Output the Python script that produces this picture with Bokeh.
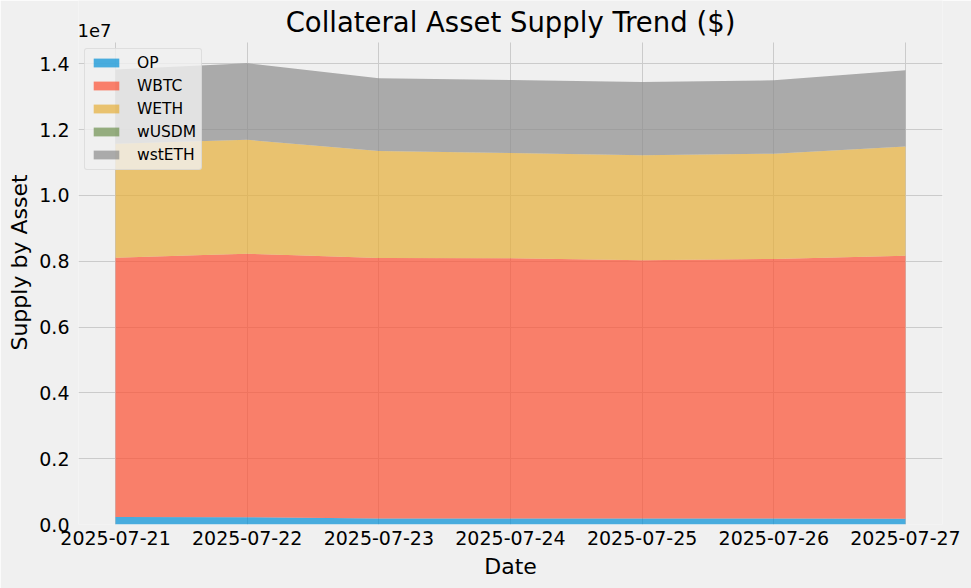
import pandas as pd
from bokeh.plotting import figure
from bokeh.models import (ColumnDataSource, Range1d, FixedTicker, DatetimeTickFormatter,
                          CustomJSTickFormatter, Label, Title)
from bokeh.embed import file_html
from bokeh.resources import INLINE

# ---- data ----
dates = ["2025-07-21", "2025-07-22", "2025-07-23", "2025-07-24",
         "2025-07-25", "2025-07-26", "2025-07-27"]
assets = ["OP", "WBTC", "WETH", "wUSDM", "wstETH"]
op = [230000, 222000, 185000, 180000, 180000, 180000, 175000]
wbtc = [7880000, 8010000, 7915000, 7910000, 7850000, 7890000, 7995000]
weth = [3460000, 3460000, 3250000, 3200000, 3190000, 3200000, 3320000]
wusdm = [0, 0, 0, 0, 0, 0, 0]
wsteth = [2260000, 2330000, 2210000, 2220000, 2230000, 2230000, 2320000]
colors = ["#008fd5", "#fc4f30", "#e5ae38", "#6d904f", "#8b8b8b"]
y_tick_values = [0, 2e6, 4e6, 6e6, 8e6, 10e6, 12e6, 14e6]
title_text = "Collateral Asset Supply Trend ($)"
x_label = "Date"
y_label = "Supply by Asset"

FONT = "DejaVu Sans"
BG = "#f0f0f0"

# geometry (pixels)
H = 588
FRAME_BOTTOM = 523.5          # screen y of value 0
AXES_TOP = 42                 # screen y of the top of the plotting area
PX_PER_UNIT = 328.7 / 1e7     # pixels per dollar
Y_END = (FRAME_BOTTOM - AXES_TOP) / PX_PER_UNIT        # top of the axes area
Y_TOP = FRAME_BOTTOM / PX_PER_UNIT                      # top of the canvas


def y_at(screen_y):
    return (FRAME_BOTTOM - screen_y) / PX_PER_UNIT


x = pd.to_datetime(dates)
source = ColumnDataSource(dict(date=x, OP=op, WBTC=wbtc, WETH=weth, wUSDM=wusdm, wstETH=wsteth))

pad = pd.Timedelta(hours=6.75)
x_start, x_end = x[0] - pad, x[-1] + pad
p = figure(width=971, height=H, output_backend="svg", toolbar_location=None,
           x_axis_type="datetime",
           x_range=Range1d(x_start, x_end),
           y_range=Range1d(0, Y_TOP),
           min_border_left=77, min_border_right=29, min_border_top=0,
           min_border_bottom=int(round(H - FRAME_BOTTOM)))

p.varea_stack(stackers=assets, x="date", source=source, color=colors,
              fill_alpha=0.7, legend_label=assets)

p.background_fill_color = BG
p.border_fill_color = BG
p.outline_line_color = None

for ax in (p.xaxis[0], p.yaxis[0]):
    ax.axis_line_color = None
    ax.major_tick_line_color = None
    ax.minor_tick_line_color = None
    ax.major_tick_out = 0
    ax.major_tick_in = 0
    ax.minor_tick_out = 0
    ax.minor_tick_in = 0
    ax.major_label_text_font = FONT
    ax.major_label_text_font_size = "19px"
    ax.major_label_text_color = "#000000"
    ax.axis_label_text_font = FONT
    ax.axis_label_text_font_size = "22px"
    ax.axis_label_text_font_style = "normal"
    ax.axis_label_text_color = "#000000"

p.xaxis.major_label_standoff = 6
p.xaxis.axis_label_standoff = 6
p.yaxis.major_label_standoff = 9

p.xaxis.axis_label = x_label
p.xaxis.ticker = FixedTicker(ticks=[t.value / 1e6 for t in x])
fmt = "%Y-%m-%d"
p.xaxis.formatter = DatetimeTickFormatter(days=fmt, months=fmt, hours=fmt, years=fmt)
p.yaxis.ticker = FixedTicker(ticks=y_tick_values)
p.yaxis.formatter = CustomJSTickFormatter(code="return (tick/1e7).toFixed(1);")

# y axis label, centred on the axes area (not on the whole canvas height)
p.add_layout(Title(text=y_label, align="center", offset=-22, standoff=9,
                   text_font=FONT, text_font_size="22px", text_font_style="normal",
                   text_color="#000000"), "left")

p.grid.grid_line_color = "#cbcbcb"
p.grid.grid_line_width = 1
p.xgrid.cross_bounds = (0, Y_END)

# title
mid = x_start + (x_end - x_start) / 2
p.add_layout(Label(x=mid, y=y_at(21), text=title_text, text_font=FONT,
                   text_font_size="27.5px", text_color="#000000",
                   text_baseline="alphabetic", text_align="center"))
# offset text of the y axis
p.add_layout(Label(x=x_start, y=y_at(30), x_offset=-1, text="1e7",
                   text_font=FONT, text_font_size="18px", text_color="#000000",
                   text_baseline="alphabetic", text_align="left"))

lg = p.legend[0]
lg.label_text_font = FONT
lg.label_text_font_size = "15.5px"
lg.label_text_color = "#000000"
lg.glyph_width = 32
lg.glyph_height = 11
lg.label_height = 17
lg.spacing = 5
lg.padding = 5
lg.margin = 0
lg.label_standoff = 15
lg.location = (6, FRAME_BOTTOM - 169)
lg.background_fill_color = BG
lg.background_fill_alpha = 0.8
lg.border_line_color = "#cccccc"
lg.border_line_width = 1
lg.border_radius = 3

open("out.html", "w").write(file_html(p, INLINE))
